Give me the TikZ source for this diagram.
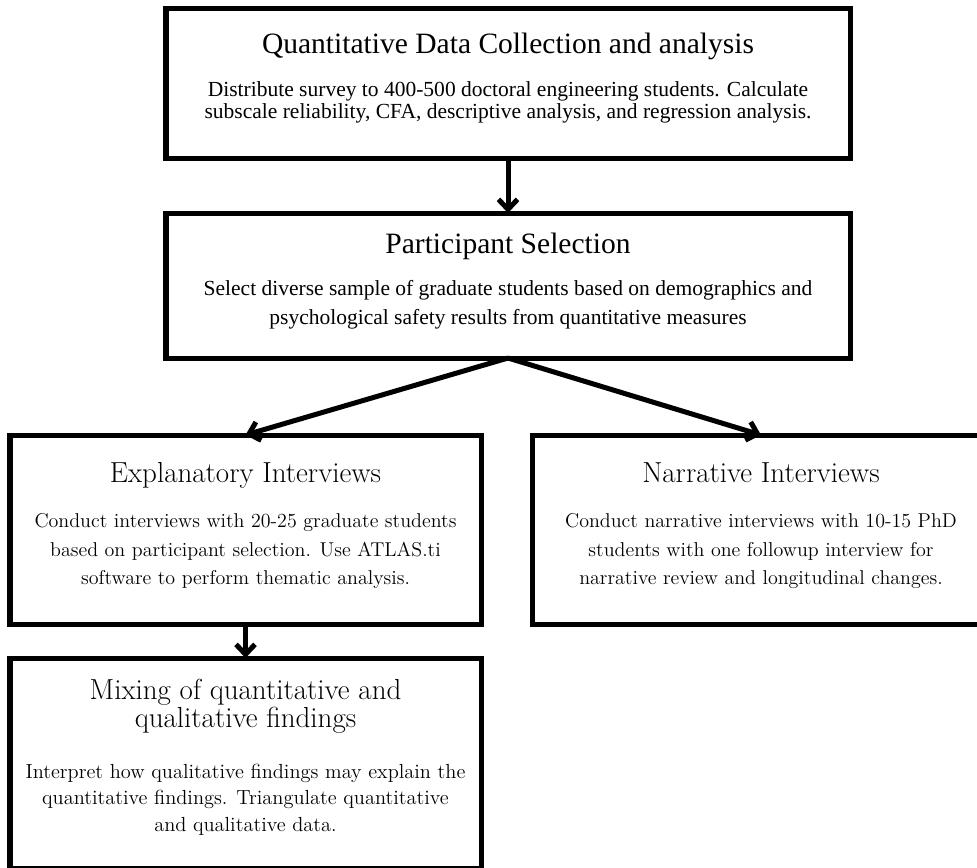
\documentclass[tikz,border=0pt]{standalone}
\usepackage{fontspec}
\newfontfamily\timesf{Liberation Serif}
\usetikzlibrary{positioning,arrows.meta}

\tikzset{
  box/.style={draw, line width=2.85pt, inner sep=0pt, outer sep=0pt},
  link/.style={line width=2.85pt, -{Straight Barb[length=0.2cm,width=0.38cm]}},
  ttlA/.style={anchor=base, font=\timesf\fontsize{16.8}{20}\selectfont},
  txtA/.style={anchor=base, align=center, font=\timesf\fontsize{12.24}{12.52}\selectfont},
  ttlB/.style={anchor=base, align=center, font=\fontsize{16.5}{15.94}\selectfont},
  txtB/.style={anchor=base, align=center, font=\fontsize{11.38}{15.94}\selectfont},
}

\begin{document}
\begin{tikzpicture}
  \useasboundingbox (0,0) rectangle (19.54,-17.34);

  % boxes
  \node (quant) [box, minimum width=13.68cm, minimum height=3cm] at (10.16,-1.66) {};
  \node (sel) [box, minimum width=13.68cm, minimum height=2.9cm, below=1.1cm of quant] {};
  \node (expl) [box, minimum width=9.42cm, minimum height=3.78cm, below=1.54cm of sel, xshift=-5.25cm] {};
  \node (narr) [box, minimum width=9.16cm, minimum height=3.78cm, right=1.02cm of expl] {};
  \node (mix) [box, minimum width=9.42cm, minimum height=4.2cm, below=0.68cm of expl] {};

  % texts (base = last line)
  \node (quantT) [ttlA] at ([yshift=-0.9cm]quant.north) {Quantitative Data Collection and analysis};
  \node (quantB) [txtA] at ([yshift=-2.2cm]quant.north) {Distribute survey to 400-500 doctoral engineering students. Calculate\\subscale reliability, CFA, descriptive analysis, and regression analysis.};

  \node (selT) [ttlA] at ([yshift=-0.8cm]sel.north) {Participant Selection};
  \node (selB) [txtA, font=\timesf\fontsize{12.24}{15.94}\selectfont] at ([yshift=-2.22cm]sel.north) {Select diverse sample of graduate students based on demographics and\\psychological safety results from quantitative measures};

  \node (explT) [ttlB] at ([yshift=-0.94cm]expl.north) {Explanatory Interviews};
  \node (explB) [txtB] at ([yshift=-2.98cm]expl.north) {Conduct interviews with 20-25 graduate students\\based on participant selection. Use ATLAS.ti\\software to perform thematic analysis.};

  \node (narrT) [ttlB] at ([yshift=-0.94cm]narr.north) {Narrative Interviews};
  \node (narrB) [txtB] at ([yshift=-2.98cm]narr.north) {Conduct narrative interviews with 10-15 PhD\\students with one followup interview for\\narrative review and longitudinal changes.};

  \node (mixT) [ttlB] at ([yshift=-1.38cm]mix.north) {Mixing of quantitative and\\qualitative findings};
  \node (mixB) [txtB, font=\fontsize{11.6}{15.08}\selectfont] at ([yshift=-3.46cm]mix.north) {Interpret how qualitative findings may explain the\\quantitative findings. Triangulate quantitative\\and qualitative data.};

  % arrows
  \draw [link] (quant) -- (sel);
  \draw [link] (sel.south) -- (expl.north);
  \draw [link] (sel.south) -- (narr.north);
  \draw [link] (expl) -- (mix);

\end{tikzpicture}
\end{document}
